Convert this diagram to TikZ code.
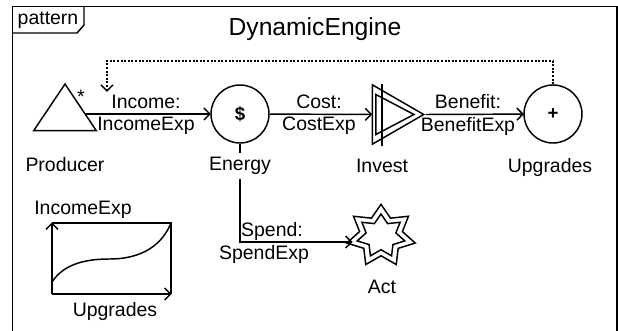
\documentclass[tikz,border=0pt]{standalone}
\usepackage{fontspec}
\setmainfont{Liberation Sans}
\usetikzlibrary{shapes.geometric,arrows.meta}
\tikzset{
	lbl/.style={font=\fontsize{14.6}{16}\selectfont, inner sep=0pt},
	pool/.style={draw, circle, minimum size=43.5pt, inner sep=0pt, fill=white, font=\fontsize{14}{15}\selectfont\bfseries},
	flow/.style={->, shorten >=-0.5pt},
	starshape/.style={draw, star, star points=7, inner sep=0pt, star point ratio=1.6, xscale=1.11, transform shape}
}
\begin{document}
\begin{tikzpicture}[x=0.75pt,y=-0.75pt,>={Straight Barb[length=4.5pt,width=9pt]}, line width=1.1pt, line join=miter]
	\useasboundingbox (0,0) rectangle (618,331);
	\draw (12.5,331)--(12.5,6.5)--(617,6.5)--(617,331);
	\draw (12.5,33)--(77,33)--(84,25)--(84,6.5);
	\node[lbl] (tab) at (48,20) {pattern};
	\node[lbl,font=\fontsize{18.5}{20}\selectfont] (title) at (315,29) {DynamicEngine};
	% nodes
	\node[draw, isosceles triangle, isosceles triangle stretches, shape border rotate=90, minimum height=35pt, minimum width=47pt, inner sep=0pt] (producer) at (65,114) {};
	\node[lbl] (star) at (81,97) {*};
	\node[pool] (energy) at (240,114) {\$};
	\node[draw, isosceles triangle, isosceles triangle stretches, minimum height=38.5pt, minimum width=44.5pt, inner sep=0pt] (invest) at (389.5,114.5) {};
	\node[draw, isosceles triangle, isosceles triangle stretches, minimum height=28.5pt, minimum width=30pt, inner sep=0pt] (investin) at (388,114.5) {};
	\coordinate (bartop) at (382,84);
	\coordinate (barbot) at (382,146);
	\draw (bartop)--(barbot);
	\node[pool] (upgrades) at (553,114) {+};
	\node[starshape, minimum size=47.5pt] (act) at (381,236) {};
	\node[starshape, minimum size=33pt] (actin) at (381,236) {};
	% connectors
	\draw[flow] (producer)--(energy);
	\draw[flow] (energy)--(invest);
	\draw[flow] (invest.apex)--(upgrades);
	\coordinate (spendcorner) at (240,242);
	\coordinate (spendend) at (352,242);
	\draw[flow] (energy)--(spendcorner)--(spendend);
	\coordinate (backa) at (553,61);
	\coordinate (backb) at (107,61);
	\coordinate (backc) at (107,92);
	\draw[->, dash pattern=on 1.5pt off 1.2pt] (upgrades)--(backa)--(backb)--(backc);
	% labels
	\node[lbl] at (146,102) {Income:};
	\node[lbl] at (146,126) {IncomeExp};
	\node[lbl] at (319,102) {Cost:};
	\node[lbl] at (319,126) {CostExp};
	\node[lbl] at (468,102) {Benefit:};
	\node[lbl] at (468,126) {BenefitExp};
	\node[lbl] at (272,231) {Spend:};
	\node[lbl] at (264,254) {SpendExp};
	\node[lbl] at (65,165) {Producer};
	\node[lbl,fill=white,inner ysep=3pt] at (240,166) {Energy};
	\node[lbl] at (382,166) {Invest};
	\node[lbl] at (550,167) {Upgrades};
	\node[lbl] at (382,287) {Act};
	% chart
	\coordinate (orig) at (52,294);
	\coordinate (ytop) at (52,223);
	\coordinate (xend) at (171,294);
	\coordinate (corner) at (171,223);
	\draw (ytop)--(corner)--(xend);
	\draw[flow] (orig)--(ytop);
	\draw[flow] (orig)--(xend);
	\draw (52,282) .. controls (65,262) and (90,259) .. (110,259) .. controls (135,259) and (160,250) .. (corner);
	\node[lbl] at (83,210) {IncomeExp};
	\node[lbl] at (115,311) {Upgrades};
\end{tikzpicture}
\end{document}
